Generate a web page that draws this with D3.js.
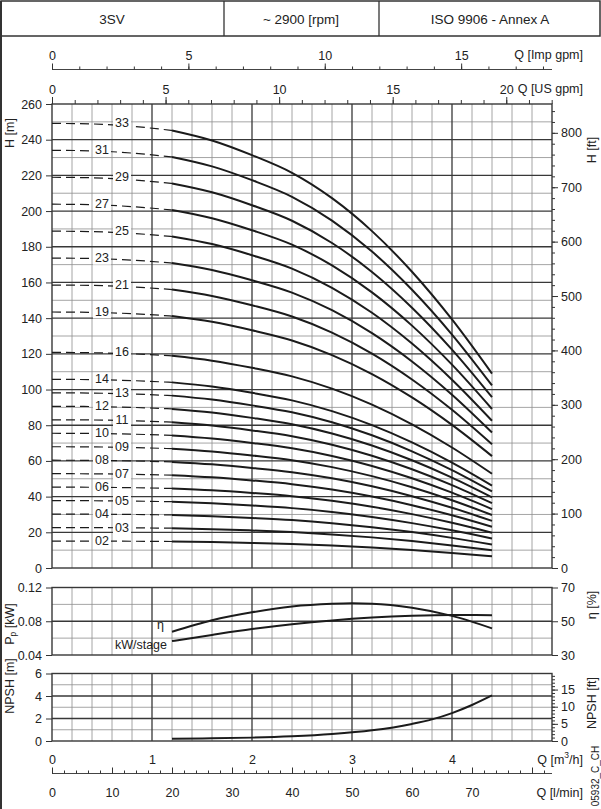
<!DOCTYPE html>
<html><head><meta charset="utf-8">
<script src="https://cdn.jsdelivr.net/npm/d3@7"></script>
<style>
body{margin:0;background:#fff;}
svg{display:block;}
</style></head><body>
<svg id="c" width="601" height="809"></svg>
<script>
// ---------------- DATA ----------------
const headerTexts = ["3SV", "~ 2900 [rpm]", "ISO 9906 - Annex A"];
const stages = [33,31,29,27,25,23,21,19,16,14,13,12,11,10,9,8,7,6,5,4,3,2];
const stageLabels = ["33","31","29","27","25","23","21","19","16","14","13","12","11","10","09","08","07","06","05","04","03","02"];
const qHead = [0,0.4,0.8,1.2,1.6,2.0,2.4,2.8,3.2,3.6,4.0,4.4];           // m3/h
const headPerStage = [7.55,7.54,7.50,7.43,7.26,7.01,6.71,6.28,5.72,5.03,4.22,3.30]; // m
const qSolidStart = 1.2;
const qEta = [1.2,1.6,2.0,2.4,2.8,3.0,3.2,3.6,4.0,4.4];
const etaValues = [43.8,50.6,55.3,58.7,60.3,60.6,60.4,58.0,53.2,45.8];   // %
const qPower = [1.2,1.6,2.0,2.4,2.8,3.2,3.6,4.0,4.4];
const kwPerStage = [0.0565,0.0638,0.0707,0.0765,0.0810,0.0843,0.0864,0.0874,0.0872];
const qNpsh = [1.2,1.6,2.0,2.4,2.8,3.2,3.6,3.8,4.0,4.2,4.4];
const npshValues = [0.20,0.24,0.30,0.42,0.62,0.95,1.52,1.92,2.48,3.20,4.05];

// tick values / labels
const hTicks = [0,20,40,60,80,100,120,140,160,180,200,220,240,260];
const hFtTicks = [0,100,200,300,400,500,600,700,800];
const kwTicks = [0.04,0.08,0.12];
const etaTicks = [30,50,70];
const npshTicks = [0,2,4,6];
const npshFtTicks = [0,5,10,15];
const m3hTicks = [0,1,2,3,4];
const lminTicks = [0,10,20,30,40,50,60,70];
const impTicks = [0,5,10,15];
const usTicks = [0,5,10,15,20];

// unit conversions
const M3H_PER_IMPGPM = 0.272765, M3H_PER_USGPM = 0.227125, LMIN_PER_M3H = 1000/60, FT_PER_M = 1/0.3048;

// ---------------- LAYOUT ----------------
const FONT = '"Liberation Sans", Arial, Helvetica, sans-serif';
const ink = "#1b1b1b", dark = "#383838", thin = "#8e8e8e", txt = "#222";
const fmtInt = d3.format("d");
const svg = d3.select("#c");
const X0 = 52, X1 = 552, QMAX = 5;
const x = d3.scaleLinear().domain([0,QMAX]).range([X0,X1]);
const yMain = d3.scaleLinear().domain([0,260]).range([568,104]);
const yMainFt = d3.scaleLinear().domain([0,260*FT_PER_M]).range([568,104]);
const yKw = d3.scaleLinear().domain([0.04,0.12]).range([655,587.5]);
const yEta = d3.scaleLinear().domain([30,70]).range([655,587.5]);
const yNpsh = d3.scaleLinear().domain([0,6]).range([741,673.5]);
const yNpshFt = d3.scaleLinear().domain([0,6*FT_PER_M]).range([741,673.5]);
const xImp = d3.scaleLinear().domain([0,QMAX/M3H_PER_IMPGPM]).range([X0,X1]);
const xUS = d3.scaleLinear().domain([0,QMAX/M3H_PER_USGPM]).range([X0,X1]);
const xLmin = d3.scaleLinear().domain([0,QMAX*LMIN_PER_M3H]).range([X0,X1]);

// ---------------- HEADER / FRAME ----------------
svg.append("rect").attr("x",1).attr("y",1).attr("width",599).attr("height",35)
  .attr("fill","none").attr("stroke","#333").attr("stroke-width",1.5);
svg.append("line").attr("x1",1).attr("x2",1).attr("y1",1).attr("y2",809).attr("stroke","#333").attr("stroke-width",2);
[224,379].forEach(v=>svg.append("line").attr("x1",v).attr("x2",v).attr("y1",1).attr("y2",36).attr("stroke","#333").attr("stroke-width",1.3));
const headerCenters = [112,301,490];
svg.selectAll("text.hdr").data(headerTexts).join("text").attr("class","hdr")
  .attr("x",(d,i)=>headerCenters[i]).attr("y",19).attr("text-anchor","middle").attr("dominant-baseline","central")
  .attr("font-family",FONT).attr("font-size",13.5).attr("fill",txt).text(d=>d);

// ---------------- GRIDS ----------------
const qThin = d3.range(0,26).map(i=>+(i*0.2).toFixed(1)).filter(q=>Math.abs(q-Math.round(q))>1e-6);
const qDark = [1,2,3,4];
function panel(y, thinVals, darkVals, y0, y1){
  const g = svg.append("g");
  g.selectAll("line.vt").data(qThin).join("line").attr("x1",d=>x(d)).attr("x2",d=>x(d)).attr("y1",y0).attr("y2",y1).attr("stroke",thin).attr("stroke-width",0.8);
  g.selectAll("line.ht").data(thinVals).join("line").attr("class","ht").attr("x1",X0).attr("x2",X1).attr("y1",d=>y(d)).attr("y2",d=>y(d)).attr("stroke",thin).attr("stroke-width",0.8);
  g.selectAll("line.vd").data(qDark).join("line").attr("class","vd").attr("x1",d=>x(d)).attr("x2",d=>x(d)).attr("y1",y0).attr("y2",y1).attr("stroke",dark).attr("stroke-width",1.3);
  g.selectAll("line.hd").data(darkVals).join("line").attr("class","hd").attr("x1",X0).attr("x2",X1).attr("y1",d=>y(d)).attr("y2",d=>y(d)).attr("stroke",dark).attr("stroke-width",1.3);
  g.append("rect").attr("x",X0).attr("y",y1).attr("width",X1-X0).attr("height",y0-y1).attr("fill","none").attr("stroke",dark).attr("stroke-width",1.4);
}
panel(yMain, d3.range(10,260,20), d3.range(20,260,20), yMain(0), yMain(260));
panel(yKw, [0.06,0.10], [0.08], yKw(0.04), yKw(0.12));
panel(yNpsh, [1,3,5], [2,4], yNpsh(0), yNpsh(6));

// ---------------- AXES ----------------
function styleAxis(g, keepDomain){
  g.attr("font-family",FONT).attr("font-size",12.5);
  g.selectAll("text").attr("fill",txt);
  g.selectAll(".tick line").attr("stroke","#333").attr("stroke-width",1);
  if(!keepDomain) g.select(".domain").remove();
  else g.select(".domain").attr("stroke","#444").attr("stroke-width",1.2);
}
// main left / right
svg.append("g").attr("transform",`translate(${X0},0)`).call(d3.axisLeft(yMain).tickValues(hTicks).tickFormat(fmtInt).tickSize(6).tickPadding(4)).call(styleAxis);
svg.append("g").attr("transform",`translate(${X1},0)`).call(d3.axisRight(yMainFt).tickValues(d3.range(0,841,20)).tickSize(3).tickFormat("")).call(styleAxis);
svg.append("g").attr("transform",`translate(${X1},0)`).call(d3.axisRight(yMainFt).tickValues(hFtTicks).tickFormat(fmtInt).tickSize(6).tickPadding(3)).call(styleAxis);
// efficiency panel
svg.append("g").attr("transform",`translate(${X0},0)`).call(d3.axisLeft(yKw).tickValues(kwTicks).tickFormat(d3.format(".2f")).tickSize(6).tickPadding(4)).call(styleAxis);
svg.append("g").attr("transform",`translate(${X1},0)`).call(d3.axisRight(yEta).tickValues(etaTicks).tickFormat(fmtInt).tickSize(6).tickPadding(3)).call(styleAxis);
// npsh panel
svg.append("g").attr("transform",`translate(${X0},0)`).call(d3.axisLeft(yNpsh).tickValues(npshTicks).tickFormat(fmtInt).tickSize(6).tickPadding(4)).call(styleAxis);
svg.append("g").attr("transform",`translate(${X1},0)`).call(d3.axisRight(yNpshFt).tickValues(d3.range(0,20)).tickSize(3).tickFormat("")).call(styleAxis);
svg.append("g").attr("transform",`translate(${X1},0)`).call(d3.axisRight(yNpshFt).tickValues(npshFtTicks).tickFormat(fmtInt).tickSize(6).tickPadding(3)).call(styleAxis);
// top Imp gpm axis
svg.append("line").attr("x1",X0).attr("x2",X1).attr("y1",69.5).attr("y2",69.5).attr("stroke","#444").attr("stroke-width",1.2);
svg.append("g").attr("transform","translate(0,69.5)").call(d3.axisTop(xImp).tickValues(d3.range(0,19)).tickSize(3).tickFormat("")).call(styleAxis);
svg.append("g").attr("transform","translate(0,69.5)").call(d3.axisTop(xImp).tickValues(impTicks).tickFormat(fmtInt).tickSize(6).tickPadding(4)).call(styleAxis);
// top US gpm axis (on plot top)
svg.append("g").attr("transform",`translate(0,${yMain(260)})`).call(d3.axisTop(xUS).tickValues(d3.range(0,23)).tickSize(4).tickFormat("")).call(styleAxis);
svg.append("g").attr("transform",`translate(0,${yMain(260)})`).call(d3.axisTop(xUS).tickValues(usTicks).tickFormat(fmtInt).tickSize(7).tickPadding(3.5)).call(styleAxis);
// bottom m3/h labels
svg.append("g").attr("transform",`translate(0,${yNpsh(0)})`).call(d3.axisBottom(x).tickValues(m3hTicks).tickFormat(fmtInt).tickSize(0).tickPadding(14)).call(styleAxis);
// l/min axis
svg.append("line").attr("x1",X0).attr("x2",X1).attr("y1",773.5).attr("y2",773.5).attr("stroke","#444").attr("stroke-width",1.2);
svg.append("g").attr("transform","translate(0,773.5)").call(d3.axisTop(xLmin).tickValues(d3.range(0,83,2)).tickSize(3).tickFormat("")).call(styleAxis);
svg.append("g").attr("transform","translate(0,773.5)").call(d3.axisTop(xLmin).tickValues(d3.range(0,81,10)).tickSize(6).tickFormat("")).call(styleAxis);
svg.append("g").attr("transform","translate(0,773.5)").call(d3.axisBottom(xLmin).tickValues(lminTicks).tickFormat(fmtInt).tickSize(0).tickPadding(15)).call(styleAxis);

// axis titles
function label(xp, yp, rot, anchor){
  const t = svg.append("text").attr("font-family",FONT).attr("font-size",12.5).attr("fill",txt)
    .attr("text-anchor",anchor||"middle").attr("dominant-baseline","central");
  if(rot) t.attr("transform",`translate(${xp},${yp}) rotate(-90)`); else t.attr("x",xp).attr("y",yp);
  return t;
}
label(583,55,false,"end").text("Q [Imp gpm]");
label(583,89,false,"end").text("Q [US gpm]");
label(10,133,true).text("H [m]");
label(592,150,true).text("H [ft]");
const pl = label(10,624,true); pl.append("tspan").text("P"); pl.append("tspan").attr("font-size",8.5).attr("dy",3).text("p"); pl.append("tspan").attr("dy",-3).text(" [kW]");
label(592,605,true).text("η [%]");
label(10,686,true).text("NPSH [m]");
label(592,703,true).text("NPSH [ft]");
const qm = label(583,760,false,"end"); qm.append("tspan").text("Q [m"); qm.append("tspan").attr("font-size",8.5).attr("dy",-5).text("3"); qm.append("tspan").attr("dy",5).text("/h]");
label(583,792.5,false,"end").text("Q [l/min]");
label(595,776,true).attr("font-size",10).text("05932_C_CH");
label(164,625,false,"end").text("η");
label(167,645,false,"end").text("kW/stage");

// ---------------- CURVES ----------------
const lineMain = d3.line().x(d=>x(d[0])).y(d=>yMain(d[1])).curve(d3.curveMonotoneX);
const gc = svg.append("g");
stages.forEach((n,i)=>{
  const pts = qHead.map((q,j)=>[q, n*headPerStage[j]]);
  gc.append("path").attr("d",lineMain(pts.filter(p=>p[0]<=qSolidStart))).attr("fill","none")
    .attr("stroke",ink).attr("stroke-width",1.2).attr("stroke-dasharray","9,5");
  gc.append("path").attr("d",lineMain(pts.filter(p=>p[0]>=qSolidStart))).attr("fill","none")
    .attr("stroke",ink).attr("stroke-width",2);
});
const gl = svg.append("g");
stages.forEach((n,i)=>{
  const lx = x(i%2===0 ? 0.7 : 0.5), ly = yMain(n*headPerStage[0]);
  gl.append("rect").attr("x",lx-9).attr("y",ly-6.5).attr("width",18).attr("height",13).attr("fill","#fff");
  gl.append("text").attr("x",lx).attr("y",ly).attr("text-anchor","middle").attr("dominant-baseline","central")
    .attr("font-family",FONT).attr("font-size",12.5).attr("fill",txt).text(stageLabels[i]);
});
// efficiency & power
svg.append("path").attr("d",d3.line().x((d,i)=>x(qEta[i])).y(d=>yEta(d)).curve(d3.curveMonotoneX)(etaValues))
  .attr("fill","none").attr("stroke",ink).attr("stroke-width",2);
svg.append("path").attr("d",d3.line().x((d,i)=>x(qPower[i])).y(d=>yKw(d)).curve(d3.curveMonotoneX)(kwPerStage))
  .attr("fill","none").attr("stroke",ink).attr("stroke-width",2);
// NPSH
svg.append("path").attr("d",d3.line().x((d,i)=>x(qNpsh[i])).y(d=>yNpsh(d)).curve(d3.curveMonotoneX)(npshValues))
  .attr("fill","none").attr("stroke",ink).attr("stroke-width",2);
</script></body></html>
